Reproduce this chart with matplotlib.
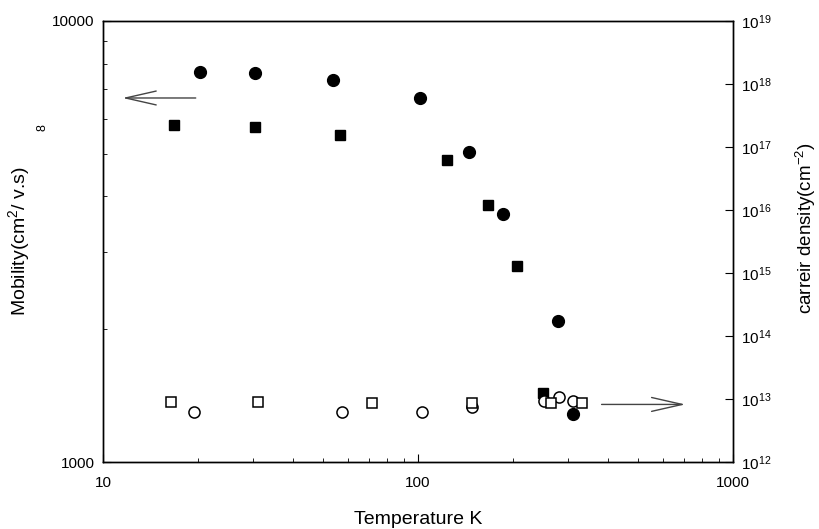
import matplotlib
matplotlib.use('Agg')
import matplotlib.pyplot as plt
from matplotlib.ticker import LogLocator, NullFormatter, FixedLocator, FixedFormatter

plt.rcParams['font.family'] = ['Liberation Sans', 'DejaVu Sans']
plt.rcParams['mathtext.fontset'] = 'custom'
plt.rcParams['mathtext.rm'] = 'Liberation Sans'

# ── Data ─────────────────────────────────────────────────────────────────────
# mobility, left axis
mob_circ_T = [20.3, 30.4, 53.7, 101.4, 145, 186, 278, 310]
mob_circ = [7660, 7620, 7350, 6690, 5050, 3650, 2090, 1285]
mob_sq_T = [16.8, 30.4, 56.5, 124, 167, 206, 250]
mob_sq = [5810, 5750, 5510, 4840, 3830, 2780, 1432]

# carrier density, right axis
dens_circ_T = [19.4, 57.4, 103, 148, 251, 280, 310]
dens_circ = [6.2e12, 6.2e12, 6.2e12, 7.5e12, 9.3e12, 1.07e13, 9.3e12]
dens_sq_T = [16.4, 31.0, 71.5, 148, 264, 332]
dens_sq = [9.0e12, 9.0e12, 8.6e12, 8.6e12, 8.6e12, 8.6e12]

fig = plt.figure(figsize=(8.19, 5.29), dpi=100)
ax = fig.add_axes([103/819, 1 - 462/529, 630/819, 441/529])
ax2 = ax.twinx()

ax.set_xscale('log')
ax.set_yscale('log')
ax2.set_yscale('log')
ax.set_xlim(10, 1000)
ax.set_ylim(1000, 10000)
ax2.set_ylim(1e12, 1e19)

ax.plot(mob_circ_T, mob_circ, 'o', color='black', ms=8.5)
ax.plot(mob_sq_T, mob_sq, 's', color='black', ms=7)
ax2.plot(dens_circ_T, dens_circ, 'o', mfc='white', mec='black', mew=1.1, ms=8)
ax2.plot(dens_sq_T, dens_sq, 's', mfc='white', mec='black', mew=1.1, ms=7)

# arrows telling which axis each set belongs to
ax.annotate('', xy=(11.3, 6690), xytext=(20.1, 6690),
            arrowprops=dict(arrowstyle='->,head_length=2.2,head_width=0.5',
                            color='#444', lw=1.0))
ax2.annotate('', xy=(720, 8.2e12), xytext=(375, 8.2e12),
             arrowprops=dict(arrowstyle='->,head_length=2.2,head_width=0.5',
                             color='#444', lw=1.0))

# ticks
ax.xaxis.set_major_locator(FixedLocator([10, 100, 1000]))
ax.xaxis.set_major_formatter(FixedFormatter(['10', '100', '1000']))
ax.xaxis.set_minor_locator(LogLocator(base=10, subs=range(2, 10)))
ax.xaxis.set_minor_formatter(NullFormatter())
ax.yaxis.set_major_locator(FixedLocator([1000, 10000]))
ax.yaxis.set_major_formatter(FixedFormatter(['1000', '10000']))
ax.yaxis.set_minor_locator(LogLocator(base=10, subs=range(2, 10)))
ax.yaxis.set_minor_formatter(NullFormatter())
ax2.yaxis.set_major_locator(LogLocator(base=10, numticks=20))
ax2.yaxis.set_minor_locator(LogLocator(base=10, subs=[]))

ax.tick_params(which='both', direction='in', labelsize=11, pad=6)
ax.tick_params(axis='x', pad=10)
ax.tick_params(which='major', length=6)
ax.tick_params(which='minor', length=3)
ax2.tick_params(which='both', direction='in', labelsize=11, length=6, pad=6)

for a in (ax, ax2):
    for s in a.spines.values():
        s.set_linewidth(1.0)

ax.set_xlabel('Temperature K', fontsize=14)
ax.xaxis.set_label_coords(0.5, -0.11)
ax.set_ylabel('Mobility(cm$^2$/ v.s)', fontsize=14)
ax.yaxis.set_label_coords(-0.111, 0.5)
ax2.set_ylabel('carreir density(cm$^{-2}$)', fontsize=13.5)
ax2.yaxis.set_label_coords(1.095, 0.53)
fig.text(43/819, 1 - 128/529, '8', rotation=90, fontsize=9,
         ha='center', va='center')

fig.savefig('out.png', dpi=100)
